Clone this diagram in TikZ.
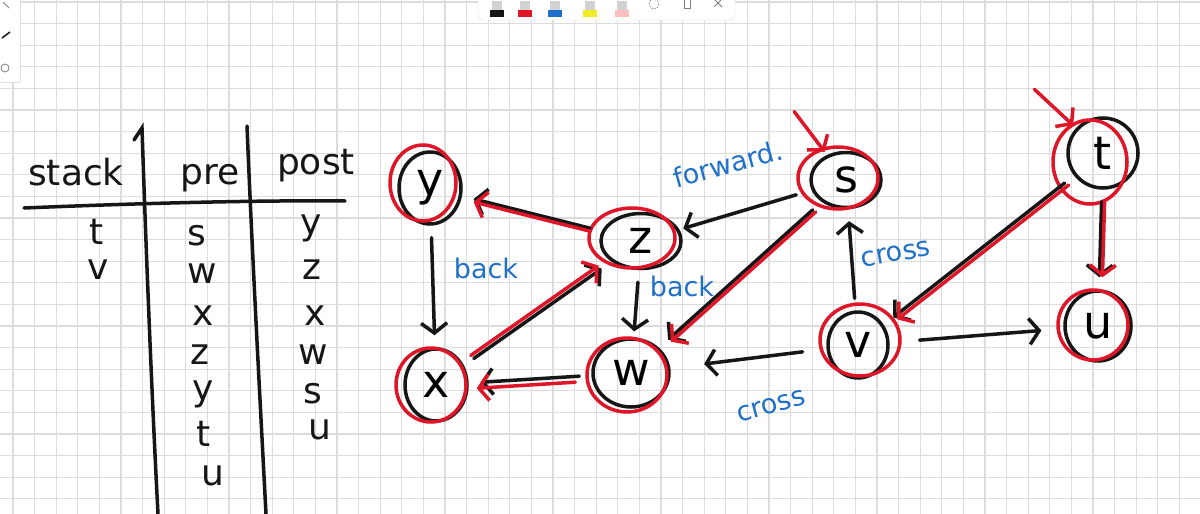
\documentclass[tikz,border=0pt]{standalone}
\usepackage{fontspec}
\setmainfont{DejaVu Sans}
\usetikzlibrary{arrows.meta,shapes.geometric}
\definecolor{ink}{RGB}{22,22,22}
\definecolor{inkred}{RGB}{222,22,40}
\definecolor{inkblue}{RGB}{30,112,200}
\definecolor{gridgray}{RGB}{220,220,220}
\definecolor{hilite}{RGB}{240,235,40}
\begin{document}
\begin{tikzpicture}[x=1pt,y=-1pt,
    n/.style={ellipse,draw=ink,line width=3.5pt,inner sep=0pt,font=\fontsize{46}{48}\selectfont},
    ring/.style={draw=inkred,line width=3.5pt},
    blk/.style={draw=ink,line width=3.5pt,line cap=round,-{Straight Barb[length=10pt,width=26pt]},shorten <=12pt,shorten >=12pt},
    redarr/.style={blk,draw=inkred},
    lbl/.style={text=inkblue,inner sep=0pt,font=\fontsize{27}{29}\selectfont},
    cell/.style={text=ink,inner sep=0pt,font=\fontsize{36}{38}\selectfont},
    tabline/.style={draw=ink,line width=3.5pt,line cap=round}]
    \useasboundingbox (0,0) rectangle (1200,514);
    \fill[white] (0,0) rectangle (1200,514);
    % grid paper
    \foreach \gx in {13,34.6,...,1200} \draw[gridgray,line width=1.3pt] (\gx,0) -- (\gx,514);
    \foreach \gy in {2,23.6,...,514} \draw[gridgray,line width=1.3pt] (0,\gy) -- (1200,\gy);

    % pen toolbar
    \draw[gray!25,fill=white,rounded corners=6pt] (478,-12) rectangle (735,20);
    \foreach \px/\pc in {497/ink,525/inkred,555/inkblue,590/hilite,622/pink} {
        \fill[gray!35] (\px-5,1) rectangle (\px+5,10);
        \fill[\pc] (\px-7,10) rectangle (\px+7,17);
    }
    \draw[gray,line width=0.8pt,dash pattern=on 1.5pt off 1.5pt] (654,4) circle (5);
    \draw[gray,line width=0.8pt] (684,-2) rectangle (690,8);
    \draw[gray,line width=0.8pt] (714,-1) -- (722,7) (722,-1) -- (714,7);
    \draw[gray!25,fill=white] (-5,-5) rectangle (20,82);
    \draw[gray,line width=0.8pt] (3,2) -- (9,8);
    \draw[ink,line width=1.5pt] (2,38) -- (10,32);
    \draw[gray,line width=0.8pt] (5,68) circle (4);

    % table
    \node[cell] (hstack) at (76,172) {stack};
    \node[cell] (hpre) at (210,178) {pre};
    \node[cell] (hpost) at (316,166) {post};
    \draw[tabline] (24,208) .. controls (120,204) and (250,200) .. (345,201);
    \draw[tabline] (134,140) -- (142,128) .. controls (146,250) and (152,400) .. (158,514);
    \draw[tabline] (247,126) .. controls (252,250) and (260,400) .. (266,514);
    \node[cell] (s1) at (97,232) {t};
    \node[cell] (s2) at (98,270) {v};
    \node[cell] (p1) at (197,236) {s};
    \node[cell] (p2) at (202,274) {w};
    \node[cell] (p3) at (203,316) {x};
    \node[cell] (p4) at (200,355) {z};
    \node[cell] (p5) at (203,394) {y};
    \node[cell] (p6) at (204,434) {t};
    \node[cell] (p7) at (213,476) {u};
    \node[cell] (q1) at (311,228) {y};
    \node[cell] (q2) at (312,270) {z};
    \node[cell] (q3) at (315,316) {x};
    \node[cell] (q4) at (313,355) {w};
    \node[cell] (q5) at (313,394) {s};
    \node[cell] (q6) at (320,430) {u};

    % vertices
    \node[n,minimum width=62pt,minimum height=72pt] (y) at (430,188) {y};
    \node[n,minimum width=80pt,minimum height=55pt] (z) at (641,241) {z};
    \node[n,minimum width=70pt,minimum height=55pt] (s) at (846,180) {s};
    \node[n,minimum width=70pt,minimum height=70pt] (t) at (1103,153) {t};
    \node[n,minimum width=62pt,minimum height=72pt] (x) at (436,385) {x};
    \node[n,minimum width=76pt,minimum height=68pt] (w) at (631,373) {w};
    \node[n,minimum width=60pt,minimum height=66pt] (v) at (858,345) {v};
    \node[n,minimum width=66pt,minimum height=70pt] (u) at (1098,326) {u};

    % red rings
    \draw[ring] (423,183) ellipse [x radius=33, y radius=38];
    \draw[ring] (632,238) ellipse [x radius=43, y radius=30];
    \draw[ring] (838,178) ellipse [x radius=40, y radius=31];
    \draw[ring] (1090,162) ellipse [x radius=37, y radius=42];
    \draw[ring] (431,385) ellipse [x radius=35, y radius=37];
    \draw[ring] (627,375) ellipse [x radius=40, y radius=37];
    \draw[ring] (860,340) ellipse [x radius=40, y radius=36];
    \draw[ring] (1093,325) ellipse [x radius=35, y radius=35];

    \coordinate (sin) at (793,110);
    \coordinate (tin) at (1033,88);

    % black edges
    \draw[blk] (y) to (x);
    \draw[blk] (x) to (z);
    \draw[blk] (z) to (y);
    \draw[blk,shorten >=6pt] (z) to (w);
    \draw[blk] (w) to (x);
    \draw[blk,shorten <=16pt,shorten >=4pt] (s) to (z);
    \draw[blk] (s) to (w);
    \draw[blk] (v) to (s);
    \draw[blk,shorten <=24pt,shorten >=34pt] (v) to (w);
    \draw[blk,shorten <=30pt,shorten >=22pt] (v) to (u);
    \draw[blk] (t) to (v);
    \draw[blk] (t) to (u);

    % red (tree) edges
    \draw[redarr,shorten <=2pt,shorten >=4pt] (sin) to (s);
    \draw[redarr,shorten <=2pt,shorten >=4pt] (tin) to (t);
    \draw[redarr,transform canvas={shift={(0pt,-3pt)}}] (z) to (y);
    \draw[redarr,transform canvas={shift={(-3pt,3pt)}}] (x) to (z);
    \draw[redarr,transform canvas={shift={(3pt,-2pt)}}] (s) to (w);
    \draw[redarr,transform canvas={shift={(4pt,-2pt)}}] (t) to (v);
    \draw[redarr,transform canvas={shift={(-4pt,-6pt)}}] (w) to (x);
    \draw[redarr,transform canvas={shift={(3pt,0pt)}}] (t) to (u);

    % edge types
    \node[lbl] (lyx) at (486,268) {back};
    \node[lbl] (lzw) at (682,286) {back};
    \node[lbl,rotate=15] (lsz) at (728,164) {forward.};
    \node[lbl,rotate=10] (lvs) at (896,254) {cross};
    \node[lbl,rotate=15] (lvw) at (771,406) {cross};
\end{tikzpicture}
\end{document}
